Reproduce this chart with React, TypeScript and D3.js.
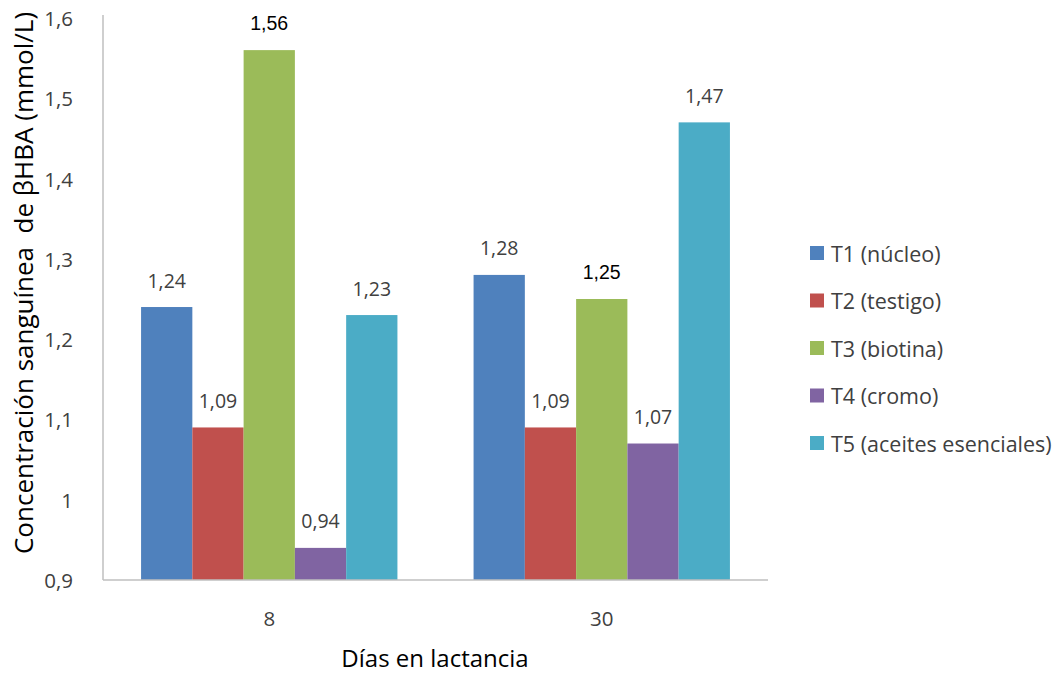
import React from "react";
import * as d3 from "d3";

const categories = ["8", "30"];
const seriesNames = ["T1 (núcleo)", "T2 (testigo)", "T3 (biotina)", "T4 (cromo)", "T5 (aceites esenciales)"];
const seriesColors = ["#4F81BD", "#C0504D", "#9BBB59", "#8064A2", "#4BACC6"];
const values = [
  [1.24, 1.28],
  [1.09, 1.09],
  [1.56, 1.25],
  [0.94, 1.07],
  [1.23, 1.47],
];
const yTicks = [0.9, 1, 1.1, 1.2, 1.3, 1.4, 1.5, 1.6];
const boldLabels = [[false, false], [false, false], [true, true], [false, false], [false, false]];

const fmt = (v: number) => String(v).replace(".", ",");

export default function App() {
  const W = 1059, H = 673;
  const left = 103, right = 768, top = 18, bottom = 580;
  const y = d3.scaleLinear().domain([0.9, 1.6]).range([bottom, top]);
  const x0 = d3.scaleBand().domain(categories).range([left, right]).paddingInner(0.229).paddingOuter(0.1145);
  const x1 = d3.scaleBand().domain(seriesNames).range([0, x0.bandwidth()]);
  const font = "'Segoe UI', 'Open Sans', 'Noto Sans', sans-serif";
  return (
    <svg width={W} height={H} style={{ position: "absolute", left: 0, top: 0, background: "#fff" }}>
      {seriesNames.map((s, si) =>
        categories.map((c, ci) => {
          const v = values[si][ci];
          const bx = (x0(c) as number) + (x1(s) as number);
          const bw = x1.bandwidth();
          const b = boldLabels[si][ci];
          return (
            <g key={s + c}>
              <rect x={bx} y={y(v)} width={bw} height={bottom - y(v)} fill={seriesColors[si]} />
              <text
                x={bx + bw / 2}
                y={y(v) - 27}
                textAnchor="middle"
                dominantBaseline="central"
                fontSize={19.5}
                fontFamily={b ? "'Liberation Sans', Arial, sans-serif" : font}
                fill={b ? "#000" : "#404040"}
              >
                {fmt(v)}
              </text>
            </g>
          );
        })
      )}
      <line x1={left} x2={left} y1={top - 3} y2={bottom} stroke="#BFBFBF" strokeWidth={1.5} />
      <line x1={left} x2={right} y1={bottom} y2={bottom} stroke="#BFBFBF" strokeWidth={1.5} />
      {yTicks.map((t) => (
        <text key={t} x={73} y={y(t)} textAnchor="end" dominantBaseline="central" fontSize={20.5} fontFamily={font} fill="#404040">
          {fmt(t)}
        </text>
      ))}
      {categories.map((c) => (
        <text key={c} x={(x0(c) as number) + x0.bandwidth() / 2} y={618} textAnchor="middle" dominantBaseline="central" fontSize={20.5} fontFamily={font} fill="#404040">
          {c}
        </text>
      ))}
      <text x={435} y={657} textAnchor="middle" dominantBaseline="central" fontSize={24} fontFamily={font} fill="#000">
        Días en lactancia
      </text>
      <text
        transform={`translate(23,283) rotate(-90)`}
        textAnchor="middle"
        dominantBaseline="central"
        fontSize={26}
        fontFamily={font}
        fill="#000"
        style={{ whiteSpace: "pre" }}
      >
        {"Concentración sanguínea  de βHBA (mmol/L)"}
      </text>
      {seriesNames.map((s, i) => (
        <g key={s} transform={`translate(810,${253 + i * 47.5})`}>
          <rect x={0} y={-7} width={14} height={14} fill={seriesColors[i]} />
          <text x={21} y={0} dominantBaseline="central" fontSize={21.5} fontFamily={font} fill="#404040">
            {s}
          </text>
        </g>
      ))}
    </svg>
  );
}
